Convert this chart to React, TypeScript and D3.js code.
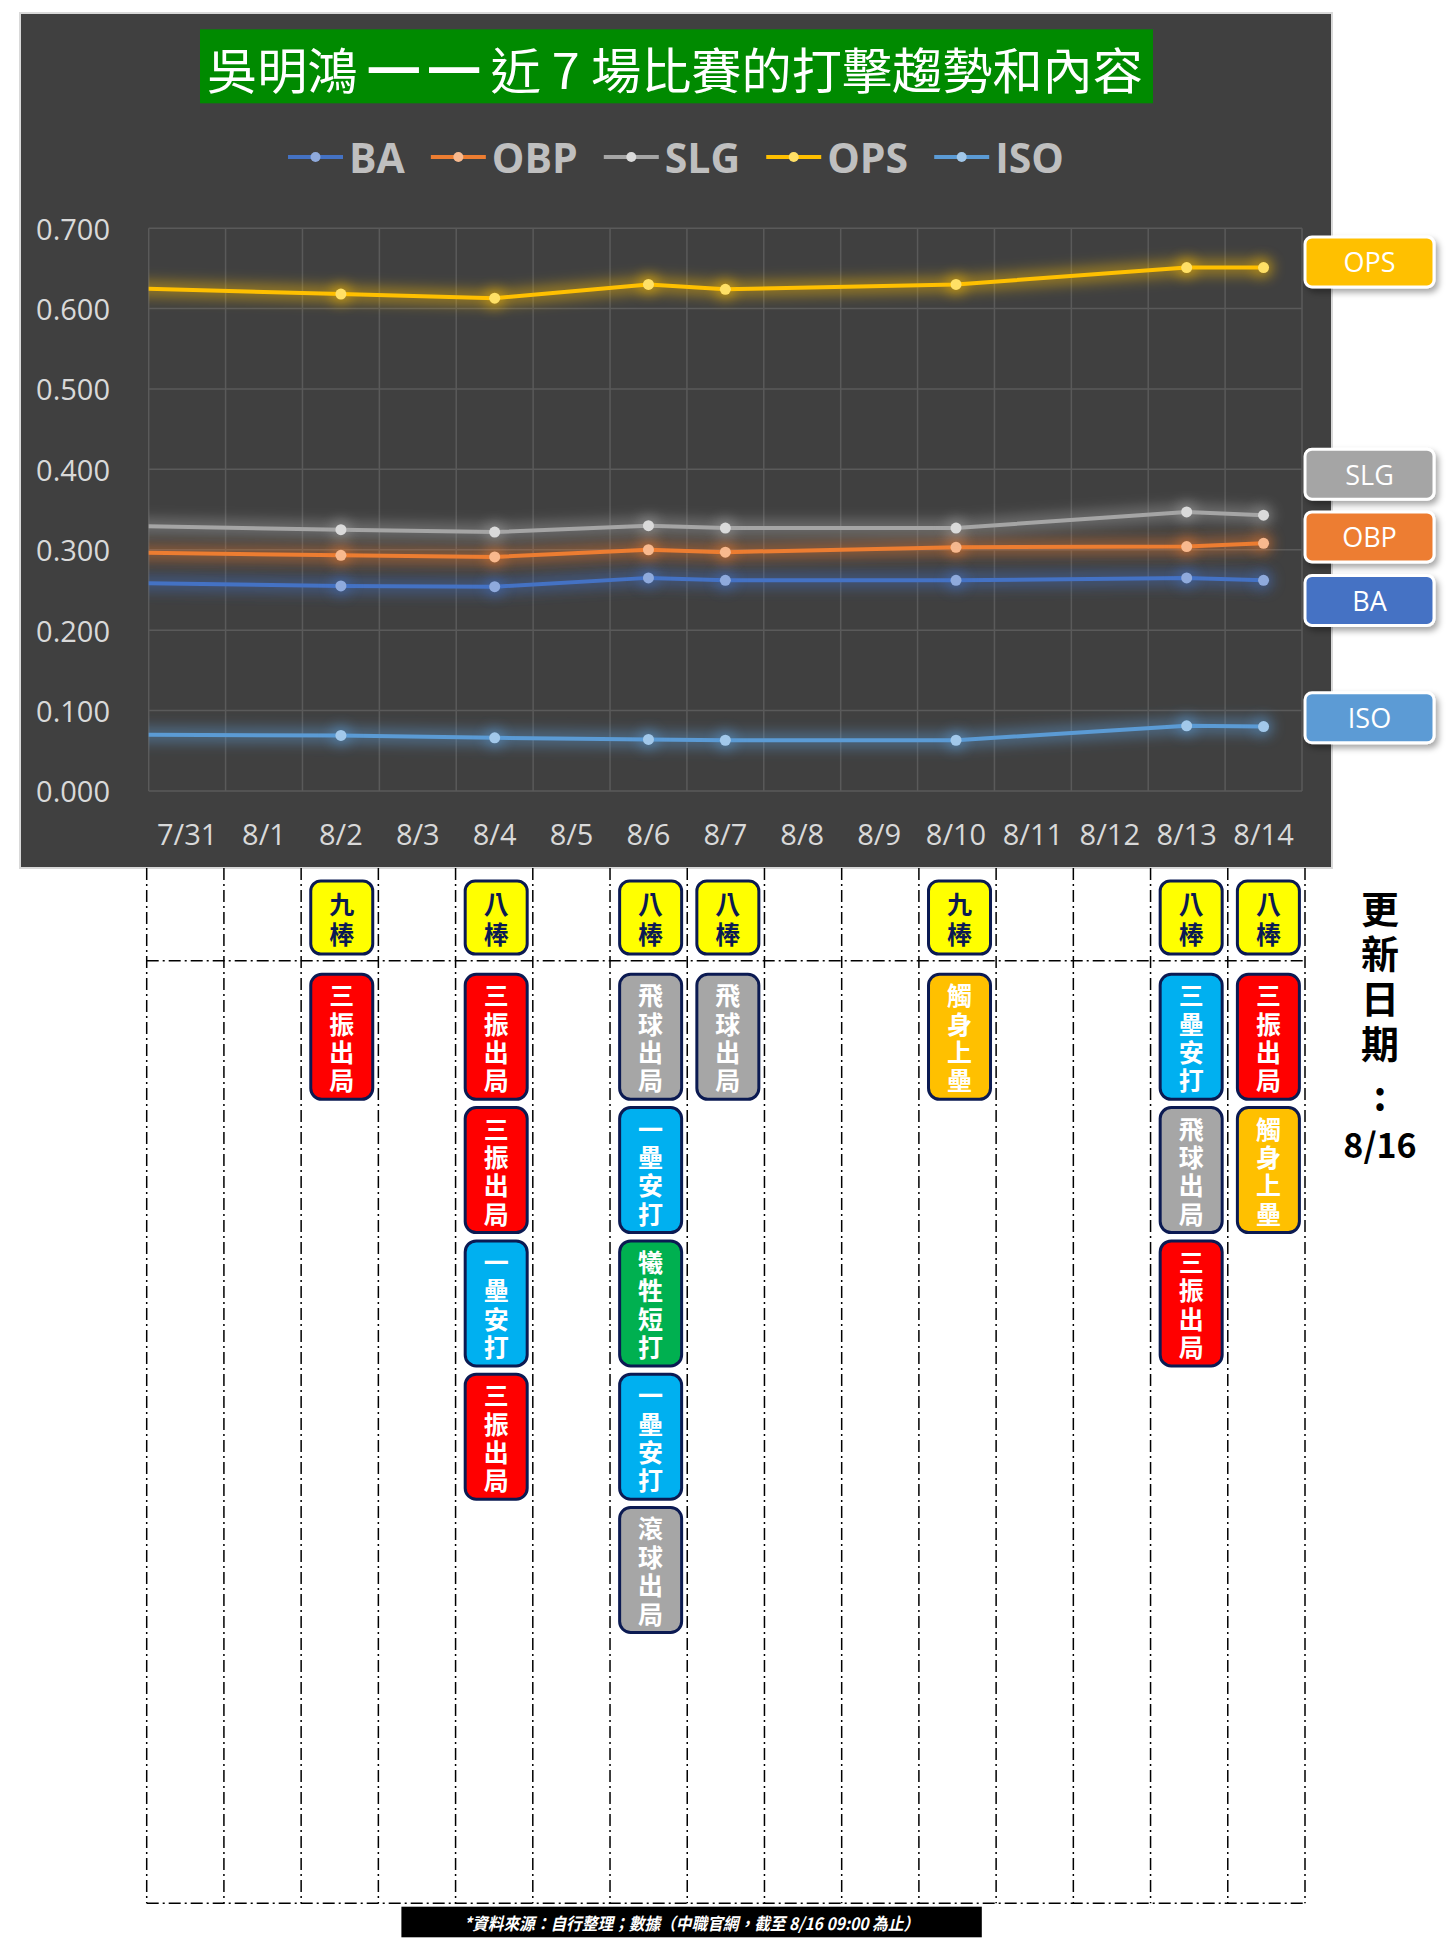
import * as d3 from 'd3';
import { useEffect, useRef } from 'react';

const W = 1456;
const H = 1941;

// x categories (one band per calendar day)
const days = ['7/31', '8/1', '8/2', '8/3', '8/4', '8/5', '8/6', '8/7', '8/8', '8/9', '8/10', '8/11', '8/12', '8/13', '8/14'];
const yTicks = [0, 0.1, 0.2, 0.3, 0.4, 0.5, 0.6, 0.7];

// game dates; 7/30 is the previous game, off the left edge of the plot
const gameDays = ['7/30', '8/2', '8/4', '8/6', '8/7', '8/10', '8/13', '8/14'];
const baValues = [0.259, 0.255, 0.254, 0.265, 0.262, 0.262, 0.265, 0.262];
const obpValues = [0.297, 0.293, 0.291, 0.3, 0.297, 0.303, 0.304, 0.308];
const slgValues = [0.33, 0.325, 0.322, 0.33, 0.327, 0.327, 0.347, 0.343];
const opsValues = [0.626, 0.618, 0.613, 0.63, 0.624, 0.63, 0.651, 0.651];
const isoValues = [0.07, 0.069, 0.066, 0.064, 0.063, 0.063, 0.081, 0.08];

const seriesNames = ['BA', 'OBP', 'SLG', 'OPS', 'ISO'];
const seriesValues = [baValues, obpValues, slgValues, opsValues, isoValues];
const seriesColors = ['#4472c4', '#ed7d31', '#a5a5a5', '#ffc000', '#5b9bd5'];
const markerColors = ['#8faadc', '#f8b98e', '#dadada', '#ffe066', '#a2c8ea'];

// tags on the right edge, placed by hand at these values
const tagNames = ['OPS', 'SLG', 'OBP', 'BA', 'ISO'];
const tagValues = [0.658, 0.394, 0.316, 0.237, 0.091];

// plate appearances under the chart
const lineupDays = ['8/2', '8/4', '8/6', '8/7', '8/10', '8/13', '8/14'];
const battingOrder = ['九', '八', '八', '八', '九', '八', '八'];
const plateResults = [
  ['三振出局'],
  ['三振出局', '三振出局', '一壘安打', '三振出局'],
  ['飛球出局', '一壘安打', '犧牲短打', '一壘安打', '滾球出局'],
  ['飛球出局'],
  ['觸身上壘'],
  ['三壘安打', '飛球出局', '三振出局'],
  ['三振出局', '觸身上壘'],
];
const resultColors: Record<string, string> = {
  三振出局: '#ff0000',
  飛球出局: '#a6a6a6',
  滾球出局: '#a6a6a6',
  一壘安打: '#00b0f0',
  三壘安打: '#00b0f0',
  觸身上壘: '#ffc000',
  犧牲短打: '#00b050',
};

const CJK = '"Noto Sans CJK TC", "Noto Sans", sans-serif';
const LATIN = '"Open Sans", "Noto Sans", sans-serif';

export default function App() {
  const svgRef = useRef<SVGSVGElement>(null);

  useEffect(() => {
    if (!svgRef.current) return;
    const svg = d3.select(svgRef.current);
    svg.selectAll('*').remove();

    const parseDay = d3.utcParse('%m/%d');
    const day = (s: string) => parseDay(s) as Date;

    const panel = { x: 20, y: 13, w: 1312, h: 855 };
    const plot = { l: 148.7, r: 1302, t: 228.2, b: 790.9 };

    const x = d3
      .scaleUtc()
      .domain([d3.utcHour.offset(day(days[0]), -12), d3.utcHour.offset(day(days[days.length - 1]), 12)])
      .range([plot.l, plot.r]);
    const y = d3.scaleLinear().domain([0, 0.7]).range([plot.b, plot.t]);

    const defs = svg.append('defs');
    defs
      .append('filter')
      .attr('id', 'glow')
      .attr('filterUnits', 'userSpaceOnUse')
      .attr('x', 0)
      .attr('y', 0)
      .attr('width', W)
      .attr('height', H)
      .append('feGaussianBlur')
      .attr('stdDeviation', 7);
    defs
      .append('filter')
      .attr('id', 'shadow')
      .attr('x', '-20%')
      .attr('y', '-30%')
      .attr('width', '150%')
      .attr('height', '180%')
      .append('feDropShadow')
      .attr('dx', 3)
      .attr('dy', 4)
      .attr('stdDeviation', 3)
      .attr('flood-color', '#000')
      .attr('flood-opacity', 0.35);
    defs
      .append('clipPath')
      .attr('id', 'plotClip')
      .append('rect')
      .attr('x', plot.l)
      .attr('y', plot.t - 30)
      .attr('width', plot.r - plot.l + 20)
      .attr('height', plot.b - plot.t + 60);

    svg.append('rect').attr('width', W).attr('height', H).attr('fill', '#fff');

    // dark chart panel
    svg
      .append('rect')
      .attr('x', panel.x)
      .attr('y', panel.y)
      .attr('width', panel.w)
      .attr('height', panel.h)
      .attr('fill', '#404040')
      .attr('stroke', '#d9d9d9')
      .attr('stroke-width', 2);

    // title
    svg
      .append('rect')
      .attr('x', 200)
      .attr('y', 29.3)
      .attr('width', 953)
      .attr('height', 74)
      .attr('fill', '#008a00');
    svg
      .append('text')
      .attr('x', 675)
      .attr('y', 67)
      .attr('text-anchor', 'middle')
      .attr('dominant-baseline', 'central')
      .attr('font-family', CJK)
      .attr('font-size', 49)
      .attr('fill', '#fff')
      .attr('textLength', 936)
      .attr('lengthAdjust', 'spacingAndGlyphs')
      .text('吳明鴻 ━\u2009━ 近 7 場比賽的打擊趨勢和內容');

    // legend
    const legend = svg.append('g');
    let lx = 0;
    seriesNames.forEach((name, i) => {
      const g = legend.append('g').attr('transform', `translate(${lx},0)`);
      g.append('line')
        .attr('x1', 0)
        .attr('x2', 55)
        .attr('y1', 157)
        .attr('y2', 157)
        .attr('stroke', seriesColors[i])
        .attr('stroke-width', 4);
      g.append('circle').attr('cx', 27.5).attr('cy', 157).attr('r', 5).attr('fill', markerColors[i]);
      const t = g
        .append('text')
        .attr('x', 61)
        .attr('y', 157)
        .attr('dominant-baseline', 'central')
        .attr('font-family', LATIN)
        .attr('font-weight', 700)
        .attr('font-size', 41)
        .attr('fill', '#bfbfbf')
        .text(name);
      const tw = (t.node() as SVGTextElement).getComputedTextLength();
      lx += 61 + tw + 26;
    });
    const legendW = lx - 26;
    legend.attr('transform', `translate(${panel.x + panel.w / 2 - legendW / 2},0)`);

    // gridlines
    const grid = svg.append('g').attr('stroke', '#5a5a5a').attr('stroke-width', 1.5);
    yTicks.forEach((v) => {
      grid.append('line').attr('x1', plot.l).attr('x2', plot.r).attr('y1', y(v)).attr('y2', y(v));
    });
    const bounds = [...days.map((d) => x(d3.utcHour.offset(day(d), -12))), plot.r];
    bounds.forEach((bx) => {
      grid.append('line').attr('x1', bx).attr('x2', bx).attr('y1', plot.t).attr('y2', plot.b);
    });

    // axis labels
    const fmt = d3.format('.3f');
    svg
      .append('g')
      .selectAll('text')
      .data(yTicks)
      .join('text')
      .attr('x', 110)
      .attr('y', (v) => y(v))
      .attr('text-anchor', 'end')
      .attr('dominant-baseline', 'central')
      .attr('font-family', LATIN)
      .attr('font-size', 29)
      .attr('fill', '#d9d9d9')
      .text((v) => fmt(v));
    svg
      .append('g')
      .selectAll('text')
      .data(days)
      .join('text')
      .attr('x', (d) => x(day(d)))
      .attr('y', 833)
      .attr('text-anchor', 'middle')
      .attr('dominant-baseline', 'central')
      .attr('font-family', LATIN)
      .attr('font-size', 29)
      .attr('fill', '#d9d9d9')
      .text((d) => d);

    // series
    const line = d3
      .line<number>()
      .x((_, i) => x(day(gameDays[i])))
      .y((v) => y(v));
    const series = svg.append('g').attr('clip-path', 'url(#plotClip)');
    seriesValues.forEach((vals, si) => {
      series
        .append('path')
        .attr('d', line(vals))
        .attr('fill', 'none')
        .attr('stroke', seriesColors[si])
        .attr('stroke-width', 14)
        .attr('stroke-opacity', 0.5)
        .attr('filter', 'url(#glow)');
    });
    seriesValues.forEach((vals, si) => {
      series
        .append('path')
        .attr('d', line(vals))
        .attr('fill', 'none')
        .attr('stroke', seriesColors[si])
        .attr('stroke-width', 4)
        .attr('stroke-linejoin', 'round');
      const pts = vals.map((v, i) => ({ v, d: gameDays[i] })).slice(1);
      series
        .append('g')
        .selectAll('circle')
        .data(pts)
        .join('circle')
        .attr('cx', (p) => x(day(p.d)))
        .attr('cy', (p) => y(p.v))
        .attr('r', 9)
        .attr('fill', seriesColors[si])
        .attr('opacity', 0.6)
        .attr('filter', 'url(#glow)');
      series
        .append('g')
        .selectAll('circle')
        .data(pts)
        .join('circle')
        .attr('cx', (p) => x(day(p.d)))
        .attr('cy', (p) => y(p.v))
        .attr('r', 5.5)
        .attr('fill', markerColors[si]);
    });

    // right-hand tags
    tagNames.forEach((name, i) => {
      const color = seriesColors[seriesNames.indexOf(name)];
      const cy = y(tagValues[i]);
      svg
        .append('rect')
        .attr('x', 1305)
        .attr('y', cy - 25)
        .attr('width', 129)
        .attr('height', 50)
        .attr('rx', 7)
        .attr('fill', color)
        .attr('stroke', '#fff')
        .attr('stroke-width', 3)
        .attr('filter', 'url(#shadow)');
      svg
        .append('text')
        .attr('x', 1369.5)
        .attr('y', cy)
        .attr('text-anchor', 'middle')
        .attr('dominant-baseline', 'central')
        .attr('font-family', LATIN)
        .attr('font-size', 27)
        .attr('fill', '#fff')
        .text(name);
    });

    // lower table
    const tbl = { l: 146.7, r: 1305, t: panel.y + panel.h, mid: 960.7, b: 1903.3 };
    const xt = d3.scaleUtc().domain(x.domain()).range([tbl.l, tbl.r]);
    const dash = '12,4,2,4';
    const tg = svg.append('g').attr('stroke', '#000').attr('stroke-width', 1.5).attr('stroke-dasharray', dash);
    [...days.map((d) => xt(d3.utcHour.offset(day(d), -12))), tbl.r].forEach((bx) => {
      tg.append('line').attr('x1', bx).attr('x2', bx).attr('y1', tbl.t).attr('y2', tbl.b);
    });
    [tbl.mid, tbl.b].forEach((hy) => {
      tg.append('line').attr('x1', tbl.l).attr('x2', tbl.r).attr('y1', hy).attr('y2', hy);
    });

    // stacked characters, one text per glyph
    const stack = (cx: number, cy: number, str: string, size: number, pitch: number, fill: string) => {
      const chars = Array.from(str);
      chars.forEach((ch, ci) => {
        svg
          .append('text')
          .attr('x', cx)
          .attr('y', cy + (ci - (chars.length - 1) / 2) * pitch)
          .attr('text-anchor', 'middle')
          .attr('dominant-baseline', 'central')
          .attr('font-family', CJK)
          .attr('font-weight', 700)
          .attr('font-size', size)
          .attr('fill', fill)
          .text(ch);
      });
    };

    const navy = '#0b1a52';
    const boxW = 62;
    lineupDays.forEach((d, gi) => {
      const cx = xt(day(d)) + 2;
      // batting order badge
      svg
        .append('rect')
        .attr('x', cx - boxW / 2)
        .attr('y', 881)
        .attr('width', boxW)
        .attr('height', 73)
        .attr('rx', 10)
        .attr('fill', '#ffff00')
        .attr('stroke', navy)
        .attr('stroke-width', 3);
      stack(cx, 918, battingOrder[gi] + '棒', 25, 30, navy);
      // results
      plateResults[gi].forEach((res, ri) => {
        const top = 974.3 + ri * 133.3;
        svg
          .append('rect')
          .attr('x', cx - boxW / 2)
          .attr('y', top)
          .attr('width', boxW)
          .attr('height', 125)
          .attr('rx', 11)
          .attr('fill', resultColors[res])
          .attr('stroke', navy)
          .attr('stroke-width', 3);
        stack(cx, top + 62.5, res, 25, 28.4, '#fff');
      });
    });

    // update date, written vertically
    stack(1380, 974, '更新日期', 38, 45, '#000');
    svg
      .append('text')
      .attr('x', 1380)
      .attr('y', 1093)
      .attr('text-anchor', 'middle')
      .attr('dominant-baseline', 'central')
      .attr('font-family', CJK)
      .attr('font-weight', 700)
      .attr('font-size', 40)
      .text(':');
    svg
      .append('text')
      .attr('x', 1380)
      .attr('y', 1143)
      .attr('text-anchor', 'middle')
      .attr('dominant-baseline', 'central')
      .attr('font-family', CJK)
      .attr('font-weight', 700)
      .attr('font-size', 34)
      .text('8/16');

    // source note
    svg.append('rect').attr('x', 401.4).attr('y', 1906.7).attr('width', 580.4).attr('height', 30.6).attr('fill', '#000');
    svg
      .append('text')
      .attr('x', 691.6)
      .attr('y', 1922)
      .attr('text-anchor', 'middle')
      .attr('dominant-baseline', 'central')
      .attr('font-family', CJK)
      .attr('font-weight', 700)
      .attr('font-style', 'italic')
      .attr('font-size', 17)
      .attr('fill', '#fff')
      .attr('textLength', 455)
      .attr('lengthAdjust', 'spacingAndGlyphs')
      .text('*資料來源：自行整理；數據（中職官網，截至 8/16 09:00 為止）');
  }, []);

  return (
    <div style={{ position: 'absolute', left: 0, top: 0, width: W, height: H }}>
      <svg ref={svgRef} width={W} height={H} viewBox={`0 0 ${W} ${H}`} style={{ display: 'block' }} />
    </div>
  );
}
